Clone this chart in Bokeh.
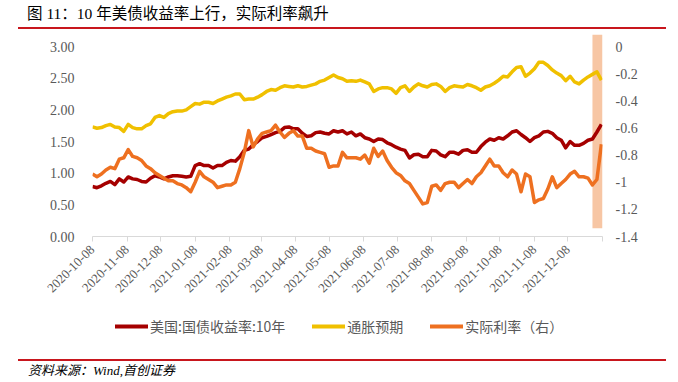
import pandas as pd
from math import pi
from bokeh.plotting import figure
from bokeh.models import (ColumnDataSource, Range1d, LinearAxis, FixedTicker,
                          DatetimeTickFormatter, PrintfTickFormatter,
                          CustomJSTickFormatter, Legend, LegendItem, Div)
from bokeh.layouts import column
from bokeh.embed import file_html
from bokeh.resources import INLINE

# ---------------- data ----------------
title_text = "图 11：10 年美债收益率上行，实际利率飙升"
source_text = "资料来源：Wind,首创证券"
series_names = ["美国:国债收益率:10年", "通胀预期", "实际利率（右）"]

start_date = "2020-10-08"     # first observation, one value every 4 days
step_days = 4
month_ticks = ["2020-10-08", "2020-11-08", "2020-12-08", "2021-01-08", "2021-02-08",
               "2021-03-08", "2021-04-08", "2021-05-08", "2021-06-08", "2021-07-08",
               "2021-08-08", "2021-09-08", "2021-10-08", "2021-11-08", "2021-12-08"]
axis_end = "2022-01-08"
highlight_start = "2021-12-30"
highlight_end = "2022-01-08"
highlight_low = -1.34

left_ticks = [0.0, 0.5, 1.0, 1.5, 2.0, 2.5, 3.0]
right_ticks = [-1.4, -1.2, -1.0, -0.8, -0.6, -0.4, -0.2, 0.0]

ust10y = [0.79, 0.77, 0.80, 0.84, 0.87, 0.82, 0.91, 0.86, 0.94, 0.91, 0.90, 0.87, 0.86, 0.92,
          0.96, 0.94, 0.91, 0.94, 0.96, 0.96, 0.95, 0.94, 0.95, 1.12, 1.15, 1.12, 1.12, 1.08, 1.12,
          1.12, 1.17, 1.20, 1.19, 1.26, 1.36, 1.38, 1.45, 1.50, 1.56, 1.58, 1.61, 1.64, 1.66,
          1.72, 1.73, 1.70, 1.70, 1.63, 1.58, 1.59, 1.64, 1.65, 1.63, 1.62, 1.67, 1.65, 1.67,
          1.62, 1.65, 1.59, 1.62, 1.56, 1.54, 1.50, 1.54, 1.53, 1.48, 1.45, 1.41, 1.38, 1.36,
          1.24, 1.29, 1.30, 1.26, 1.26, 1.36, 1.35, 1.29, 1.26, 1.33, 1.33, 1.30, 1.36, 1.37,
          1.33, 1.33, 1.42, 1.49, 1.54, 1.52, 1.56, 1.54, 1.59, 1.65, 1.67, 1.61, 1.56, 1.50,
          1.56, 1.59, 1.65, 1.66, 1.63, 1.56, 1.52, 1.40, 1.50, 1.44, 1.44, 1.47, 1.52, 1.54,
          1.65, 1.77]

breakeven = [1.73, 1.71, 1.72, 1.75, 1.77, 1.73, 1.72, 1.66, 1.77, 1.72, 1.70, 1.70, 1.75, 1.78,
             1.88, 1.91, 1.88, 1.94, 1.97, 1.98, 1.98, 2.00, 2.05, 2.10, 2.09, 2.12, 2.12, 2.10, 2.14,
             2.17, 2.20, 2.22, 2.25, 2.25, 2.16, 2.17, 2.17, 2.20, 2.24, 2.29, 2.32, 2.31, 2.35,
             2.38, 2.37, 2.36, 2.38, 2.36, 2.37, 2.39, 2.41, 2.45, 2.47, 2.51, 2.55, 2.51, 2.49,
             2.45, 2.46, 2.45, 2.47, 2.44, 2.41, 2.29, 2.33, 2.35, 2.35, 2.33, 2.26, 2.35, 2.38,
             2.29, 2.36, 2.41, 2.38, 2.36, 2.40, 2.41, 2.37, 2.29, 2.35, 2.38, 2.37, 2.36, 2.40,
             2.38, 2.35, 2.31, 2.36, 2.38, 2.42, 2.47, 2.53, 2.52, 2.60, 2.67, 2.68, 2.53, 2.58,
             2.65, 2.75, 2.75, 2.70, 2.63, 2.58, 2.54, 2.46, 2.53, 2.44, 2.41, 2.47, 2.52, 2.56,
             2.60, 2.47]

real_rate = [-0.94, -0.96, -0.94, -0.91, -0.89, -0.90, -0.83, -0.82, -0.76, -0.81, -0.82, -0.84,
             -0.88, -0.90, -0.93, -0.95, -0.97, -0.99, -0.99, -1.01, -1.02, -1.04, -1.07, -1.00,
             -0.92, -0.96, -0.98, -1.00, -1.04,
             -1.03, -1.02, -1.02, -1.00, -0.90, -0.78, -0.62, -0.74, -0.68, -0.64, -0.63, -0.62,
             -0.58, -0.63, -0.67, -0.64, -0.62, -0.66, -0.66, -0.75, -0.75, -0.77, -0.78, -0.79,
             -0.89, -0.88, -0.88, -0.78,
             -0.82, -0.82, -0.82, -0.83, -0.80, -0.86, -0.75, -0.81, -0.77, -0.84, -0.89, -0.93,
             -0.95, -0.99, -1.01, -1.06, -1.11, -1.16, -1.15, -1.03, -1.02, -1.06, -1.01, -1.00,
             -1.00, -1.04, -1.01, -0.98,
             -1.01, -0.96, -0.93, -0.88, -0.83, -0.88, -0.88, -0.93, -0.96, -0.91, -0.94, -1.07,
             -0.94, -0.96, -1.15, -1.13, -1.12, -1.05, -0.96, -1.04, -1.01, -0.98, -0.94, -0.92,
             -0.96, -0.96, -0.97, -1.02, -0.98, -0.72]

# ---------------- styles ----------------
RED = "#A50000"
YELLOW = "#F0C000"
ORANGE = "#EE7020"
BAND = "#F7C6A4"
RULE = "#C8161D"
GREY_TXT = "#595959"
AXIS_GREY = "#D9D9D9"
NUM_FONT = "Liberation Serif"
CJK_FONT = "Noto Sans CJK SC"
LW = 3.5
colors = [RED, YELLOW, ORANGE]
columns = ["ust", "be", "rr"]

dates = pd.date_range(start_date, periods=len(ust10y), freq=f"{step_days}D")
src = ColumnDataSource(dict(date=dates, ust=ust10y, be=breakeven, rr=real_rate))


def ms(d):
    return pd.Timestamp(d).timestamp() * 1000.0


# frame is 202 px tall, the 0..3 axis occupies the lower 190 px
frame_px, axis_px = 202.0, 190.0
left_top = left_ticks[-1] * frame_px / axis_px
right_top = right_ticks[0] + (right_ticks[-1] - right_ticks[0]) * frame_px / axis_px

x_range = Range1d(ms(start_date), ms(axis_end))
p = figure(width=660, height=277, output_backend="svg", toolbar_location=None,
           x_axis_type="datetime", x_range=x_range,
           y_range=Range1d(left_ticks[0], left_top),
           min_border_left=92, min_border_right=58, min_border_top=5, min_border_bottom=70)
p.extra_y_ranges = {"right": Range1d(right_ticks[0], right_top)}
p.outline_line_color = None
p.xgrid.visible = False
p.ygrid.visible = False

# highlight band
p.quad(left=[ms(highlight_start)], right=[ms(highlight_end)], bottom=[highlight_low],
       top=[right_top], y_range_name="right", fill_color=BAND, line_color=None)

p.line("date", "ust", source=src, line_color=RED, line_width=LW, line_join="round")
p.line("date", "be", source=src, line_color=YELLOW, line_width=LW, line_join="round")
p.line("date", "rr", source=src, line_color=ORANGE, line_width=LW, line_join="round",
       y_range_name="right")

# x axis
xa = p.xaxis[0]
xa.ticker = FixedTicker(ticks=[ms(d) for d in month_ticks], minor_ticks=[ms(axis_end)])
fmt = "%Y-%m-%d"
xa.formatter = DatetimeTickFormatter(microseconds=fmt, milliseconds=fmt, seconds=fmt,
                                     minsec=fmt, minutes=fmt, hourmin=fmt, hours=fmt,
                                     days=fmt, months=fmt, years=fmt)
xa.major_label_orientation = pi / 4
xa.axis_line_color = AXIS_GREY
xa.major_tick_line_color = AXIS_GREY
xa.minor_tick_line_color = AXIS_GREY
xa.major_tick_in = 0
xa.major_tick_out = 5
xa.minor_tick_in = 0
xa.minor_tick_out = 5
xa.major_label_standoff = 6
xa.major_label_text_font = NUM_FONT
xa.major_label_text_font_size = "13px"
xa.major_label_text_color = GREY_TXT

# left axis
ya = p.yaxis[0]
ya.ticker = FixedTicker(ticks=left_ticks)
ya.formatter = PrintfTickFormatter(format="%.2f")
ya.axis_line_color = None
ya.major_tick_line_color = None
ya.minor_tick_line_color = None
ya.major_label_standoff = 12
ya.major_label_text_font = NUM_FONT
ya.major_label_text_font_size = "14px"
ya.major_label_text_color = GREY_TXT

# right axis
ra = LinearAxis(y_range_name="right", ticker=FixedTicker(ticks=right_ticks),
                formatter=CustomJSTickFormatter(code="return String(Math.round(tick * 10) / 10);"))
ra.axis_line_color = None
ra.major_tick_line_color = None
ra.minor_tick_line_color = None
ra.major_label_standoff = 7
ra.major_label_text_font = NUM_FONT
ra.major_label_text_font_size = "14px"
ra.major_label_text_color = GREY_TXT
p.add_layout(ra, "right")

# ---------------- legend strip (own small figure so that it is not clipped) ----------------
# The strip's frame is aligned with the main frame by the column layout; its y range lies
# above every value, so its copies of the series stay out of view and only the legend shows.
lf = figure(width=660, height=53, output_backend="svg", toolbar_location=None,
            x_range=x_range, y_range=Range1d(10, 11),
            x_axis_location=None, y_axis_location=None,
            min_border_left=92, min_border_right=58, min_border_top=0, min_border_bottom=0)
lf.outline_line_color = None
lf.xgrid.visible = False
lf.ygrid.visible = False
items = []
for name, col, field in zip(series_names, colors, columns):
    rr_ = lf.line("date", field, source=src, line_color=col, line_width=4, line_cap="round")
    items.append(LegendItem(label=name, renderers=[rr_]))
legend = Legend(items=items, orientation="horizontal", location=(23, 23),
                border_line_color=None, background_fill_alpha=0,
                label_text_font=CJK_FONT, label_text_font_size="14px",
                label_text_color=GREY_TXT, glyph_width=33, glyph_height=14,
                label_standoff=2, spacing=27, padding=0, margin=0)
lf.add_layout(legend)

title_div = Div(
    text=(f'<div style="font-family:{NUM_FONT}, {CJK_FONT}; font-size:15.5px; line-height:16px; '
          f'color:#000; padding-left:9px; padding-top:6px; white-space:nowrap;">'
          f'{title_text}</div>'),
    width=648, height=29, margin=(0, 0, 0, 18),
    styles={"border-bottom": f"2px solid {RULE}", "box-sizing": "border-box"})

source_div = Div(
    text=(f'<div style="font-family:{NUM_FONT}, {CJK_FONT}; font-size:13px; line-height:16px; '
          f'font-style:italic; color:#000; padding-left:10px; padding-top:2px; '
          f'white-space:nowrap;">{source_text}</div>'),
    width=648, height=20, margin=(0, 0, 0, 18),
    styles={"border-top": f"2px solid {RULE}", "box-sizing": "border-box"})

layout = column(title_div, p, lf, source_div, spacing=0)

open("out.html", "w").write(file_html(layout, INLINE))
